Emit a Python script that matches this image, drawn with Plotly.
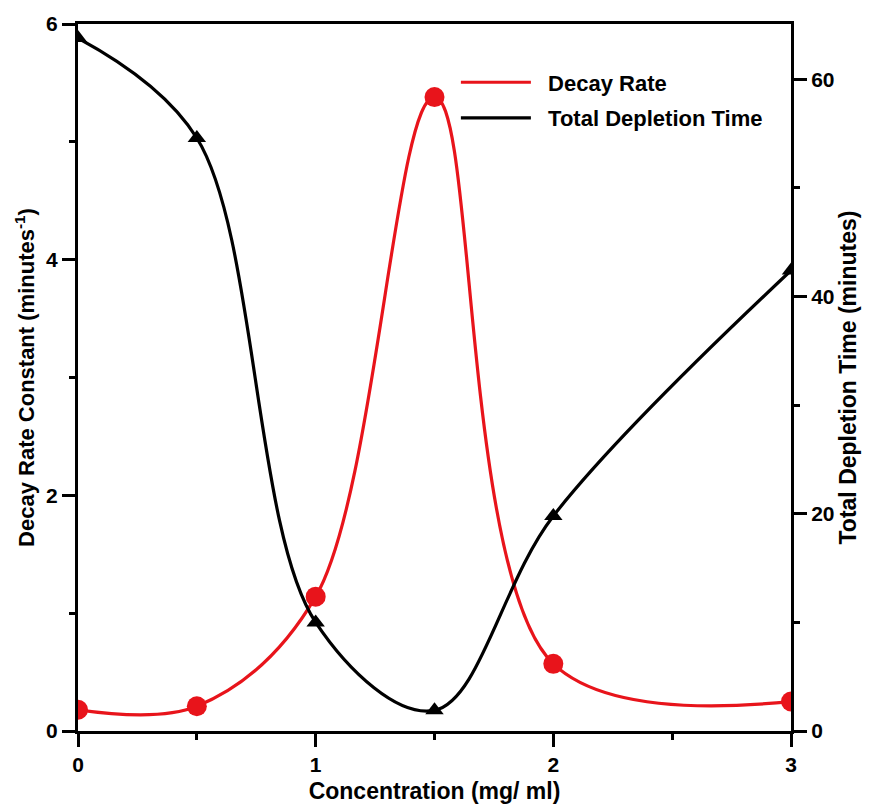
import plotly.graph_objects as go

conc = [0, 0.5, 1, 1.5, 2, 3]
decay_rate = [0.18, 0.21, 1.14, 5.38, 0.57, 0.25]
depletion_time = [63.8, 54.6, 10.0, 1.9, 19.8, 42.4]

NFONT = "Liberation Sans Narrow, Arial Narrow, Liberation Sans, Arial"
BFONT = "Liberation Sans, Arial"

fig = go.Figure()
fig.add_trace(go.Scatter(
    x=conc, y=decay_rate, mode="lines+markers", line=dict(color="#e8141b", width=3.2, shape="spline", smoothing=1.0),
    marker=dict(color="#e8141b", size=20, symbol="circle"), showlegend=False, yaxis="y"))
fig.add_trace(go.Scatter(
    x=conc, y=depletion_time, mode="lines+markers", line=dict(color="black", width=3.2, shape="spline", smoothing=1.0),
    marker=dict(color="black", size=16, symbol="triangle-up"), showlegend=False, yaxis="y2"))
# legend entries (line only)
fig.add_trace(go.Scatter(x=[None], y=[None], mode="lines", name="\u00a0\u00a0Decay Rate", legendgroup="a",
                         line=dict(color="#e8141b", width=3.2)))
fig.add_trace(go.Scatter(x=[None], y=[None], mode="lines", name="\u00a0\u00a0Total Depletion Time", legendgroup="b",
                         line=dict(color="black", width=3.2)))

axis_common = dict(showline=True, linecolor="black", linewidth=3, showgrid=False, zeroline=False,
                   ticks="outside", tickwidth=3, ticklen=13, tickcolor="black",
                   tickfont=dict(family=BFONT, size=21, color="black", weight="bold"))
minor_common = dict(ticks="outside", ticklen=6, tickwidth=3, tickcolor="black")

fig.update_layout(
    width=870, height=812,
    margin=dict(l=78, r=79, t=21, b=79),
    paper_bgcolor="white", plot_bgcolor="white",
    xaxis=dict(range=[0, 3], tickvals=[0, 1, 2, 3], mirror=True,
               minor=dict(dtick=0.5, **minor_common),
               title=dict(text="Concentration (mg/ ml)", font=dict(family=NFONT, size=23, color="black", weight="bold"), standoff=8),
               **axis_common),
    yaxis=dict(range=[0, 6], tickvals=[0, 2, 4, 6],
               minor=dict(dtick=1, **minor_common),
               title=dict(text="Decay Rate Constant (minutes<sup>-1</sup>)", font=dict(family=BFONT, size=22, color="black", weight="bold"), standoff=6),
               **axis_common),
    yaxis2=dict(range=[0, 65.1], tickvals=[0, 20, 40, 60], overlaying="y", side="right",
                minor=dict(dtick=10, **minor_common),
                title=dict(text="Total Depletion Time (minutes)", font=dict(family=BFONT, size=23, color="black", weight="bold"), standoff=6),
                **axis_common),
    legend=dict(x=0.53, y=0.947, xanchor="left", yanchor="top", bgcolor="rgba(0,0,0,0)",
                font=dict(family=BFONT, size=22, color="black", weight="bold"), itemwidth=70, tracegroupgap=4),
)

fig.write_html("out.html")
